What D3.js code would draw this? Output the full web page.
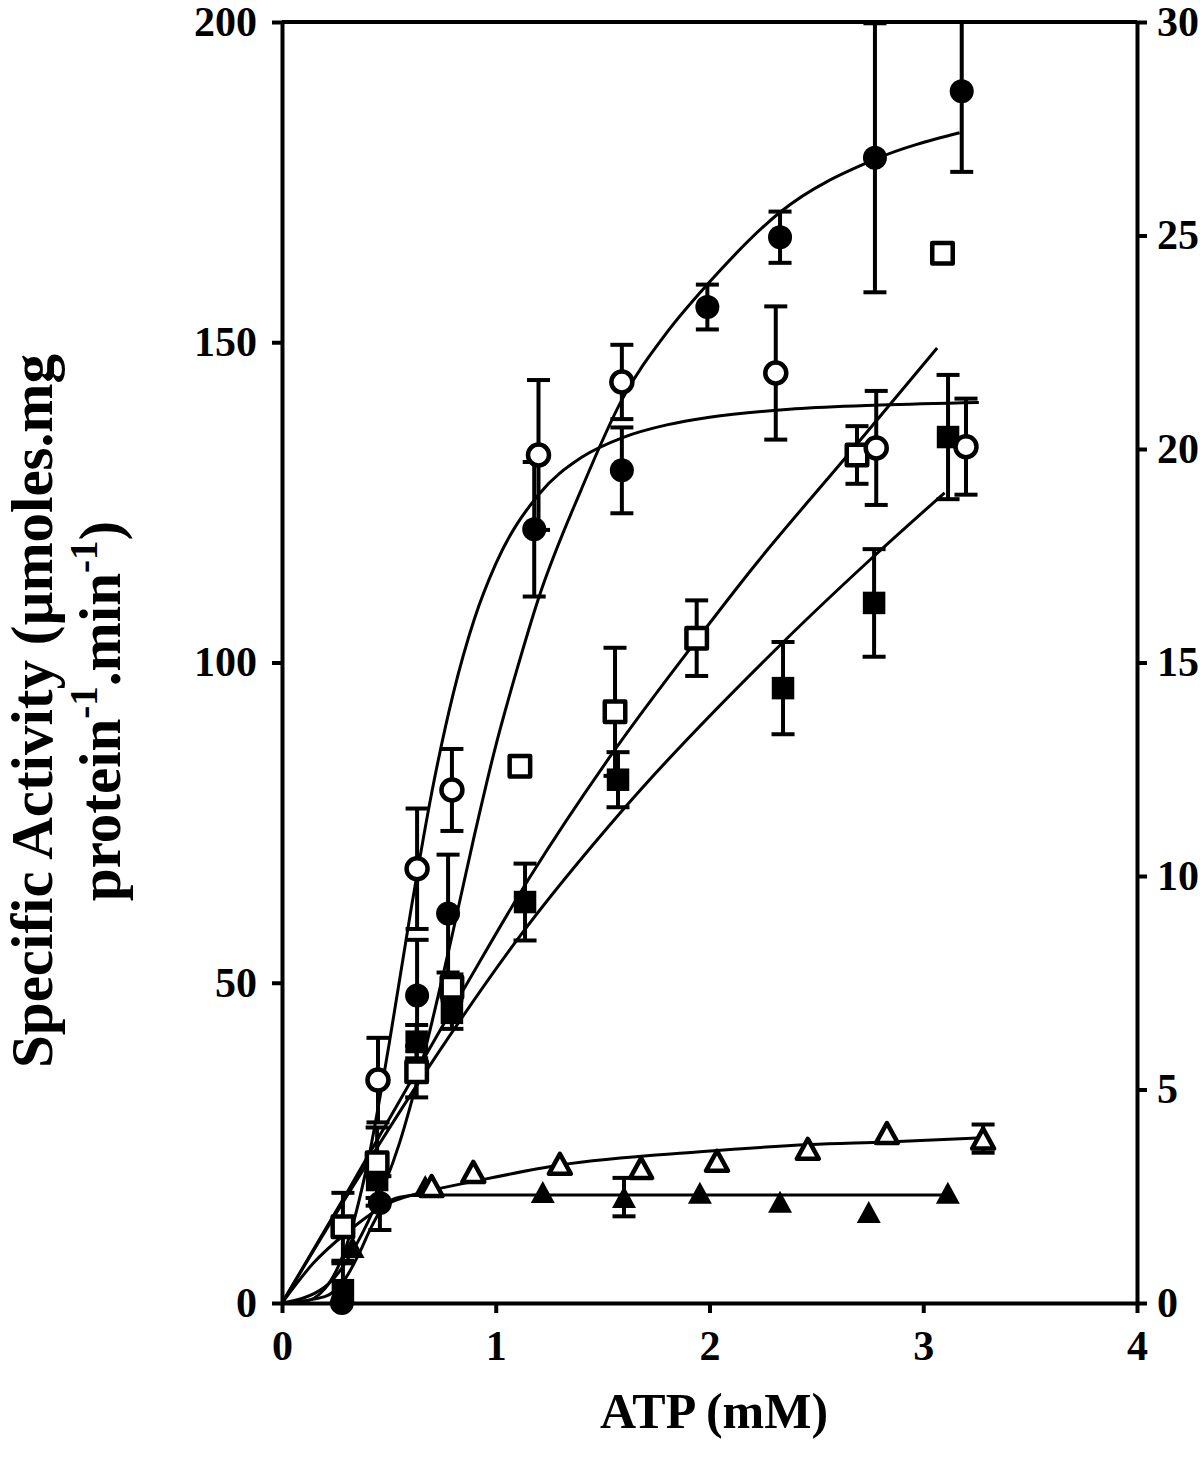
<!DOCTYPE html>
<html><head><meta charset="utf-8">
<script src="https://cdn.jsdelivr.net/npm/d3@7"></script>
<style>
body{margin:0;background:#fff}
svg{display:block}
text{font-family:"Liberation Serif","Times New Roman",serif;font-weight:bold;fill:#000}
</style>
</head><body>
<svg id="c" width="1200" height="1459"></svg>
<script>
// ---- tick values ----
const xTicks=[0,1,2,3,4];
const yLeftTicks=[0,50,100,150,200];
const yRightTicks=[0,5,10,15,20,25,30];

// ---- filled circles (left axis) ----
const fcX=[0.28,0.458,0.632,0.777,1.18,1.59,1.99,2.33,2.774,3.18];
const fcY=[0,15.6,48,60.8,120.8,130,155.5,166.4,178.8,189.2];
const fcE=[0,4.2,8.7,9.2,10.5,6.7,3.5,4,21,12.6];
// ---- open circles (left axis) ----
const ocX=[0.449,0.632,0.795,1.2,1.59,2.31,2.78,3.2];
const ocY=[34.8,67.8,80.1,132.4,143.8,145.2,133.5,133.7];
const ocE=[6.6,9.4,6.4,11.7,5.8,10.4,8.9,7.5];
// ---- open squares (left axis) ----
const osX=[0.285,0.445,0.63,0.795,1.113,1.558,1.94,2.69,3.09];
const osY=[11.9,21.9,36.1,49.3,83.8,92.3,103.8,132.4,163.9];
const osE=[5.3,5.5,4,2,1.5,10,5.9,4.5,1.5];
// ---- filled squares (left axis) ----
const fsX=[0.285,0.445,0.63,0.795,1.137,1.572,2.344,2.77,3.116];
const fsY=[2,19.2,40.8,45.3,62.6,81.7,96,109.3,135.2];
const fsE=[4.2,4,2.6,2.5,6,4.3,7.2,8.4,9.7];
// ---- open triangles (right axis) ----
const otX=[0.70,0.895,1.30,1.68,2.035,2.46,2.83,3.28];
const otY=[2.74,3.07,3.26,3.16,3.33,3.61,3.98,3.85];
const otE=[0,0,0,0,0,0,0,0.33];
// ---- filled triangles (right axis) ----
const ftX=[0.33,0.67,1.22,1.60,1.955,2.33,2.745,3.115];
const ftY=[1.31,2.74,2.60,2.48,2.58,2.37,2.13,2.58];
const ftE=[0,0,0,0.45,0,0,0,0];

// ---- fitted curves ----
const fcCurveX=[0,0.2,0.4,0.55,0.646,0.8,0.9,1.0,1.1,1.2,1.4,1.59,1.8,2.0,2.33,2.77,3.17];
const fcCurveY=[0,2.5,12.5,25,36.4,58,73,87,99,110,127,141,151.5,159.4,170.3,178.5,182.7];
const ocCurveX=[0,0.1,0.2,0.3,0.4,0.5,0.6,0.7,0.8,0.9,1.0,1.2,1.4,1.6,1.8,2.0,2.4,2.8,3.26];
const ocCurveY=[0,0.2,2.2,8.8,21.8,40.2,60.7,79.6,95,106.8,115.4,126.2,132,135.2,137.1,138.3,139.6,140.2,140.6];
const osCurveX=[0,0.3,0.833,1.16,1.56,1.94,2.22,2.65,3.065];
const osCurveY=[0,17,48,66.5,86.5,103.5,115.5,132.5,149.1];
const fsCurveX=[0,0.3,0.678,1.10,1.595,2.33,2.75,3.1];
const fsCurveY=[0,16.5,36.4,56.7,77,102.7,116,126.5];
const otCurveX=[0,0.146,0.3,0.5,0.7,0.9,1.3,1.955,2.47,2.83,3.28];
const otCurveY=[0,0.93,1.64,2.34,2.64,2.85,3.23,3.54,3.71,3.77,3.87];
const ftCurveX=[0,0.2,0.3,0.36,0.42,0.48,0.55,0.65,3.12];
const ftCurveY=[0,0.15,0.6,1.15,1.8,2.3,2.48,2.53,2.53];

const svg=d3.select("#c");
const x=d3.scaleLinear().domain([0,4]).range([282,1137]);
const yL=d3.scaleLinear().domain([0,200]).range([1303,22]);
const yR=d3.scaleLinear().domain([0,30]).range([1303,22]);

// curves
function curve(xs,ys,sc){
  const ln=d3.line().x(d=>x(d[0])).y(d=>sc(d[1])).curve(d3.curveMonotoneX);
  svg.append("path").datum(d3.zip(xs,ys)).attr("d",ln)
    .attr("fill","none").attr("stroke","#000").attr("stroke-width",3);
}
curve(fcCurveX,fcCurveY,yL);
curve(ocCurveX,ocCurveY,yL);
curve(osCurveX,osCurveY,yL);
curve(fsCurveX,fsCurveY,yL);
curve(otCurveX,otCurveY,yR);
curve(ftCurveX,ftCurveY,yR);

// error bars
function errs(xs,ys,es,sc){
  const top=sc.domain()[1];
  const g=svg.append("g").attr("stroke","#000").attr("stroke-width",4);
  xs.forEach((xv,i)=>{
    const e=es[i]; if(!e) return;
    const hiRaw=ys[i]+e, hi=Math.min(hiRaw,top), lo=Math.max(ys[i]-e,0);
    const cx=x(xv);
    g.append("line").attr("x1",cx).attr("x2",cx).attr("y1",sc(hi)).attr("y2",sc(lo));
    if(hiRaw<=top) g.append("line").attr("x1",cx-11.5).attr("x2",cx+11.5).attr("y1",sc(hi)).attr("y2",sc(hi));
    g.append("line").attr("x1",cx-11.5).attr("x2",cx+11.5).attr("y1",sc(lo)).attr("y2",sc(lo));
  });
}
errs(fcX,fcY,fcE,yL); errs(ocX,ocY,ocE,yL); errs(osX,osY,osE,yL);
errs(fsX,fsY,fsE,yL); errs(otX,otY,otE,yR); errs(ftX,ftY,ftE,yR);

// markers
function marks(xs,ys,sc,kind,open){
  const g=svg.append("g");
  xs.forEach((xv,i)=>{
    const cx=x(xv), cy=sc(ys[i]);
    let el;
    if(kind==="circle"){
      el=g.append("circle").attr("cx",cx).attr("cy",cy).attr("r",open?10.5:12);
    } else if(kind==="square"){
      const s=open?20.5:22.5;
      el=g.append("rect").attr("x",cx-s/2).attr("y",cy-s/2).attr("width",s).attr("height",s);
    } else {
      const w=open?22:24, h=open?20:22;
      el=g.append("path").attr("d",`M${cx},${cy-h/2}L${cx+w/2},${cy+h/2}L${cx-w/2},${cy+h/2}Z`);
    }
    if(open) el.attr("fill","#fff").attr("stroke","#000").attr("stroke-width",4.5).attr("stroke-linejoin","round");
    else el.attr("fill","#000");
  });
}
marks(ftX,ftY,yR,"tri",false);
marks(otX,otY,yR,"tri",true);
marks(fsX,fsY,yL,"square",false);
marks(osX,osY,yL,"square",true);
marks(fcX,fcY,yL,"circle",false);
marks(ocX,ocY,yL,"circle",true);

// axes
function styleAxis(g){
  g.selectAll("path.domain").attr("stroke","#000").attr("stroke-width",4);
  g.selectAll(".tick line").attr("stroke","#000").attr("stroke-width",4);
  g.selectAll(".tick text").attr("font-family",'"Liberation Serif","Times New Roman",serif')
    .attr("font-weight","bold").attr("font-size",42).attr("fill","#000");
}
svg.append("g").attr("transform","translate(282,0)")
  .call(d3.axisLeft(yL).tickValues(yLeftTicks).tickFormat(d3.format("d")).tickSize(10).tickSizeOuter(0).tickPadding(15))
  .call(styleAxis);
svg.append("g").attr("transform","translate(1137,0)")
  .call(d3.axisRight(yR).tickValues(yRightTicks).tickFormat(d3.format("d")).tickSize(10).tickSizeOuter(0).tickPadding(10))
  .call(styleAxis);
svg.append("g").attr("transform","translate(0,1303)")
  .call(d3.axisBottom(x).tickValues(xTicks).tickFormat(d3.format("d")).tickSize(10).tickSizeOuter(0).tickPadding(17))
  .call(styleAxis);
// top border
svg.append("line").attr("x1",x(0)).attr("x2",x(4)).attr("y1",yL(200)).attr("y2",yL(200))
  .attr("stroke","#000").attr("stroke-width",4);

// titles
svg.append("text").attr("x",714).attr("y",1428).attr("text-anchor","middle")
  .attr("font-size",50).text("ATP (mM)");
svg.append("text").attr("transform","translate(52,711) rotate(-90)").attr("text-anchor","middle")
  .attr("font-size",59).text("Specific Activity (\u00b5moles.mg");
const t2=svg.append("text").attr("transform","translate(120,711) rotate(-90)").attr("text-anchor","middle")
  .attr("font-size",59);
t2.append("tspan").text("protein");
t2.append("tspan").attr("font-size",39).attr("dy",-23).text("-1");
t2.append("tspan").attr("dy",23).text(".min");
t2.append("tspan").attr("font-size",39).attr("dy",-23).text("-1");
t2.append("tspan").attr("dy",23).text(")");
</script>
</body></html>
